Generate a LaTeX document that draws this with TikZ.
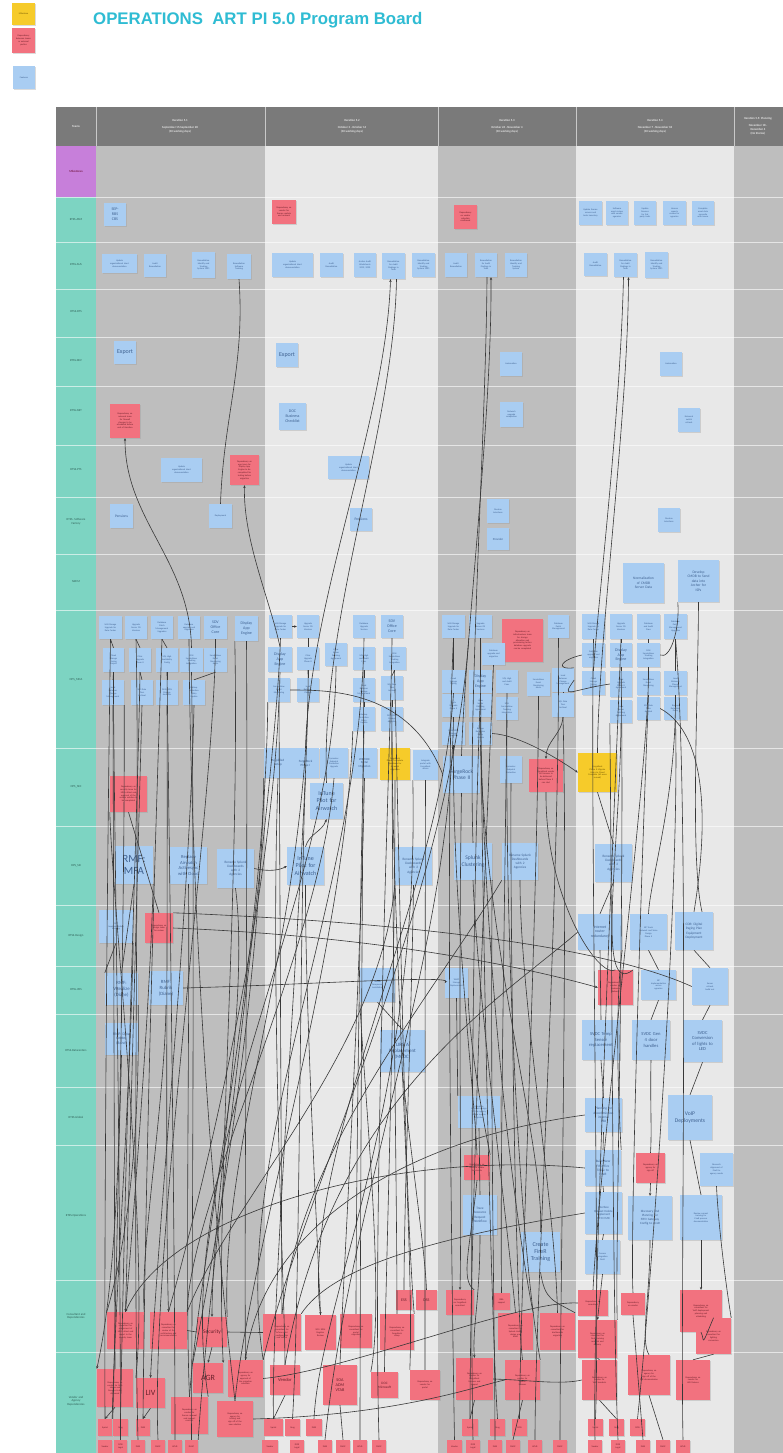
\documentclass[tikz,border=0pt]{standalone}
\usepackage{fontspec}
\setmainfont{Carlito}
\newfontfamily\ttlfont{Liberation Sans}
\usetikzlibrary{arrows.meta}
\definecolor{hdrgray}{HTML}{7A7A7A}
\definecolor{coldark}{HTML}{BEBEBE}
\definecolor{collight}{HTML}{E8E8E8}
\definecolor{teal}{HTML}{7DD4C2}
\definecolor{purp}{HTML}{C77FDA}
\definecolor{noteblue}{HTML}{A9CDF2}
\definecolor{notered}{HTML}{F2727F}
\definecolor{noteyellow}{HTML}{F6CB2A}
\definecolor{bluetext}{HTML}{3F6190}
\definecolor{redtext}{HTML}{6A1F2A}
\definecolor{yeltext}{HTML}{6B5200}
\definecolor{lanetext}{HTML}{2E5E55}
\definecolor{hdrtext}{HTML}{E6E6E6}
\definecolor{linecol}{HTML}{383838}
\definecolor{titlecol}{HTML}{2FBCD3}
\definecolor{shadowc}{HTML}{9A9A9A}
\newcommand\fs[2]{\fontsize{#1}{#2}\selectfont}
\newcommand\stk[7]{%
 \pgfmathsetmacro\stkw{#5-#3}\pgfmathsetmacro\stkh{#6-#4}%
 \pgfmathsetmacro\stkx{(#3+#5)/2}\pgfmathsetmacro\stky{(#4+#6)/2}%
 \pgfmathsetmacro\stktw{max(#5-#3-2,1)}%
 \fill[shadowc,opacity=0.35] (#3+0.6,#4+1.2) rectangle (#5+0.6,#6+1.2);%
 \node[#1,minimum width=\stkw pt,minimum height=\stkh pt,text width=\stktw pt] (#2) at (\stkx,\stky) {#7};}
\tikzset{
 nb/.style={fill=noteblue, inner sep=0.6pt, align=center, text=bluetext, font=\fs{2.3}{2.8}},
 nr/.style={fill=notered, inner sep=0.6pt, align=center, text=redtext, font=\fs{2.3}{2.8}},
 ny/.style={fill=noteyellow, inner sep=0.6pt, align=center, text=yeltext, font=\fs{2.3}{2.8}},
 lane/.style={text width=38pt, align=center, font=\fs{3}{3.6}, text=lanetext, inner sep=0},
 hdr/.style={align=center, font=\bfseries\fs{3}{4}, text=hdrtext, inner sep=0},
 cn/.style={draw=linecol, line width=0.6pt},
 ca/.style={cn, -{Stealth[length=2.8pt,width=2.4pt]}},
 sep/.style={draw=white, line width=0.5pt, opacity=0.6}
}
\begin{document}
\begin{tikzpicture}[x=1pt,y=-1pt]
\useasboundingbox (0,0) rectangle (783,1453);
\fill[white] (0,0) rectangle (783,1453);
% legend
\stk{ny}{lgY}{12}{3}{35}{25}{Milestone}
\stk{nr}{lgR}{12}{28}{35}{53}{Dependency\\between teams\\or external\\parties}
\stk{nb}{lgB}{13}{66}{35}{89}{Features}
\node[anchor=west, font=\ttlfont\bfseries\fs{16.8}{19}, text=titlecol, inner sep=0] (title) at (93,20.5) {OPERATIONS\ \ ART PI 5.0 Program Board};
% board background
\fill[hdrgray] (56,107) rectangle (783,146);
\fill[purp] (56,146) rectangle (96,197);
\fill[teal] (56,197) rectangle (96,1453);
\fill[coldark] (96,146) rectangle (265,1453);
\fill[collight] (265,146) rectangle (438,1453);
\fill[coldark] (438,146) rectangle (576,1453);
\fill[collight] (576,146) rectangle (734,1453);
\fill[coldark] (734,146) rectangle (783,1453);
\foreach \xx in {96,265,438,576,734} \draw[sep] (\xx,107) -- (\xx,146);
\foreach \yy in {197,242,289,337,386,445,497,554,610,748,826,905,966,1014,1087,1145,1280,1352} \draw[sep] (56,\yy) -- (783,\yy);
% header
\node[hdr] (h0) at (76,127) {Teams};
\node[hdr] (h1) at (180,126) {Iteration 5.1\\[3pt] September 15-September 28\\(10 working days)};
\node[hdr] (h2) at (352,126) {Iteration 5.2\\[3pt] October 3 - October 14\\(10 working days)};
\node[hdr] (h3) at (507,126) {Iteration 5.3\\[3pt] October 24 - November 4\\(10 working days)};
\node[hdr] (h4) at (655,126) {Iteration 5.4\\[3pt] November 7 - November 18\\(10 working days)};
\node[hdr] (h5) at (758,126) {Iteration 5.5: Planning\\[3pt] November 18 -\\December 4\\(No Stories)};
% lane labels
\node[lane, text=purple!50!black] (L0) at (76,171) {Milestones};
\node[lane] (L1) at (76,220) {RTSS-ASM};
\node[lane] (L2) at (76,265) {RTSS-AUS};
\node[lane] (L3) at (76,312) {RTSS-DTS};
\node[lane] (L4) at (76,361) {RTSS-DEV};
\node[lane] (L5) at (76,411) {RTSS-NET};
\node[lane] (L6) at (76,470) {RTSS-PTS};
\node[lane] (L7) at (76,522) {RTSS- Software\\Factory};
\node[lane] (L8) at (76,582) {NRCM};
\node[lane] (L9) at (76,680) {OPS\_MDA};
\node[lane] (L10) at (76,787) {OPS\_SEC};
\node[lane] (L11) at (76,866) {OPS\_SSI};
\node[lane] (L12) at (76,936) {RTSS-Design};
\node[lane] (L13) at (76,990) {RTSS-VRS};
\node[lane] (L14) at (76,1051) {RTSS-Datacenters};
\node[lane] (L15) at (76,1117) {RTSS-Global};
\node[lane] (L16) at (76,1216) {RTSS-Operations};
\node[lane] (L17) at (76,1316) {Consultant and\\Dependencies};
\node[lane] (L18) at (76,1401) {Vendor and\\Agency\\Dependencies};
% ---------- notes ----------
% ASM
\stk{nb,font=\fs{4}{4.8}}{a1}{104}{203}{126}{226}{SEP-\\RBS\\CBS}
\stk{nr}{a2}{272}{200}{296}{224}{Dependency on\\vendor for\\license update\\and renewal}
\stk{nr}{a3}{454}{205}{477}{229}{Dependency\\on vendor\\schedule\\confirmed}
\stk{nb}{a4}{579}{201}{602}{225}{Update license\\servers and\\tools inventory}
\stk{nb}{a5}{606}{201}{628}{225}{Software\\asset review\\with vendor\\agencies}
\stk{nb}{a6}{634}{201}{656}{225}{Update\\licenses\\for 3rd\\party tools}
\stk{nb}{a7}{663}{201}{686}{225}{License\\reports\\review for\\agencies}
\stk{nb}{a8}{692}{201}{714}{225}{Complete\\asset data\\reconcile\\with teams}
% AUS
\stk{nb}{u1}{102}{254}{137}{273}{Update\\organizational chart\\documentation}
\stk{nb}{u2}{144}{254}{166}{277}{Audit\\Remediation}
\stk{nb}{u3}{192}{252}{215}{278}{Remediation\\Identify and\\Tracking\\System 2021}
\stk{nb}{u4}{227}{254}{251}{279}{Remediation\\Software\\Tracking}
\stk{nb}{u5}{272}{253}{313}{277}{Update\\organizational chart\\documentation}
\stk{nb}{u6}{320}{253}{343}{277}{Audit\\Remediation}
\stk{nb}{u7}{354}{253}{376}{277}{Archer Audit\\Worksheets\\2019, 2020}
\stk{nb}{u8}{382}{253}{405}{279}{Remediation\\for Audit\\Findings in\\Tools}
\stk{nb}{u9}{412}{253}{435}{277}{Remediation\\Identify and\\Tracking\\System 2021}
\stk{nb}{u10}{445}{253}{467}{277}{Audit\\Remediation}
\stk{nb}{u11}{475}{253}{497}{277}{Remediation\\for Audit\\Findings in\\Tools}
\stk{nb}{u12}{505}{253}{527}{277}{Remediation\\Identify and\\Tracking\\System}
\stk{nb}{u13}{584}{253}{607}{276}{Audit\\Remediation}
\stk{nb}{u14}{614}{253}{637}{277}{Remediation\\for Audit\\Findings in\\Tools}
\stk{nb}{u15}{645}{252}{668}{278}{Remediation\\Identify and\\Tracking\\System 2021}
% DEV
\stk{nb,font=\fs{6}{7}}{d1}{114}{341}{136}{364}{Export}
\stk{nb,font=\fs{6}{7}}{d2}{276}{343}{298}{367}{Export}
\stk{nb}{d3}{500}{352}{522}{376}{Automation}
\stk{nb}{d4}{660}{352}{682}{376}{Automation}
% NET
\stk{nr}{n1}{110}{404}{140}{438}{Dependency on\\network team\\for firewall\\changes to be\\scheduled before\\end of iteration}
\stk{nb,font=\fs{4}{4.8}}{n2}{279}{403}{306}{430}{DOC\\Business\\Checklist}
\stk{nb}{n3}{500}{402}{523}{427}{Network\\upgrade\\completion}
\stk{nb}{n4}{678}{408}{700}{432}{Network\\switch\\refresh}
% PTS
\stk{nb}{p1}{161}{458}{202}{482}{Update\\organizational chart\\documentation}
\stk{nr}{p2}{230}{455}{259}{485}{Dependency on\\app team for\\Display App\\Engine to be\\completed for\\testing before\\migration}
\stk{nb}{p3}{328}{456}{369}{479}{Update\\organizational chart\\documentation}
% SF
\stk{nb,font=\fs{3.6}{4.4}}{s1}{110}{504}{133}{528}{Pensions}
\stk{nb}{s2}{209}{504}{232}{528}{Deployment}
\stk{nb,font=\fs{3.6}{4.4}}{s3}{350}{508}{372}{531}{Pensions}
\stk{nb}{s4}{487}{499}{509}{523}{Pension\\Interfaces}
\stk{nb,font=\fs{3}{3.6}}{s5}{487}{528}{509}{550}{Provider}
\stk{nb}{s6}{658}{508}{680}{532}{Pension\\Interfaces}
% NRCM
\stk{nb,font=\fs{3.6}{4.6}}{m1}{623}{563}{664}{603}{Normalization\\of CMDB\\Server Data}
\stk{nb,font=\fs{3.6}{4.6}}{m2}{678}{560}{719}{602}{Develop\\CMDB to Send\\data into\\Archer for\\ISPs}
% OPS_MDA col1
\stk{nb}{A1}{99}{616}{122}{639}{SAN Storage\\Upgrade for\\Data Center}
\stk{nb}{A2}{125}{616}{147}{639}{Upgrade\\Server OS\\Versions}
\stk{nb}{A3}{151}{616}{173}{639}{Database\\Patch\\Management\\Upgrades}
\stk{nb}{A4}{178}{616}{200}{639}{Database\\upgrade and\\migration}
\stk{nb,font=\fs{4}{4.8}}{A5}{204}{616}{227}{639}{SDV\\Office\\Core}
\stk{nb,font=\fs{4}{4.8}}{A6}{235}{616}{258}{641}{Display\\App\\Engine}
\stk{nb}{B1}{103}{648}{124}{672}{Cloud\\Storage\\Tiering\\Project}
\stk{nb}{B2}{129}{648}{151}{672}{Citrix\\Upgrade\\Phase II}
\stk{nb}{B3}{156}{648}{178}{672}{SQL High\\Availability\\Config}
\stk{nb}{B4}{180}{648}{203}{672}{SOLI\\ServiceNow\\Tracking\\Integration}
\stk{nb}{B5}{204}{648}{227}{672}{ServiceNow\\Event\\Monitoring\\Alerts}
\stk{nb}{C1}{102}{680}{124}{705}{Load\\Balancer\\Change\\Management}
\stk{nb}{C2}{131}{680}{153}{705}{SQL Data\\Tiers\\Archival}
\stk{nb}{C3}{156}{680}{178}{705}{DLSS SPIN\\Storage\\Analytics}
\stk{nb}{C4}{183}{680}{205}{705}{Backup\\Retention\\Policy\\Update}
% col2
\stk{nb}{E1}{269}{615}{292}{638}{SAN Storage\\Upgrade for\\Data Center}
\stk{nb}{E2}{297}{615}{319}{638}{Upgrade\\Server OS\\Versions}
\stk{nb}{E3}{353}{615}{375}{638}{Database\\Upgrade\\Version}
\stk{nb,font=\fs{4}{4.8}}{E4}{381}{615}{403}{638}{SDV\\Office\\Core}
\stk{nb,font=\fs{4}{4.8}}{F1}{268}{647}{292}{672}{Display\\App\\Engine}
\stk{nb}{F2}{297}{647}{319}{670}{Citrix\\Upgrade\\Phase II}
\stk{nb}{F3}{325}{643}{347}{666}{Linux\\Server\\Patching\\Agreement}
\stk{nb}{F4}{353}{647}{375}{670}{SQL High\\and Audit\\Fixes}
\stk{nb}{F5}{383}{647}{406}{670}{SOLI\\ServiceNow\\Tracking\\Integration}
\stk{nb}{G1}{268}{678}{290}{702}{ServiceNow\\Event\\Monitoring}
\stk{nb}{G2}{297}{678}{319}{702}{Load\\Balancer\\Change}
\stk{nb}{G3}{353}{678}{375}{702}{Load\\Balancer\\Change\\Management}
\stk{nb}{G4}{381}{676}{403}{700}{SQL Data\\Tiers\\Archival}
\stk{nb}{H1}{353}{707}{375}{731}{Backup\\Retention\\Policy\\Update}
\stk{nb}{H2}{381}{707}{403}{731}{DLSS SPIN\\Storage\\Analytics}
% col3
\stk{nb}{I1}{442}{615}{465}{638}{SAN Storage\\Upgrade for\\Data Center}
\stk{nb}{I2}{469}{615}{492}{638}{Upgrade\\Server OS\\Versions}
\stk{nr}{I3}{502}{619}{543}{662}{Dependency on\\infrastructure team\\for storage\\allocation and\\provisioning before\\database upgrade\\can be completed}
\stk{nb}{I4}{548}{615}{569}{638}{Database\\Patch\\Management}
\stk{nb}{J1}{482}{643}{505}{665}{Database\\upgrade and\\migration}
\stk{nb}{K1}{442}{670}{465}{693}{Cloud\\Storage\\Tiering}
\stk{nb,font=\fs{4}{4.8}}{K2}{469}{670}{492}{693}{Display\\App\\Engine}
\stk{nb}{K3}{496}{670}{518}{693}{SQL High\\and Audit\\Fixes}
\stk{nb}{L1}{442}{694}{465}{717}{Citrix\\Upgrade\\Phase II}
\stk{nb}{L2}{469}{694}{492}{717}{Linux\\Server\\Patching\\Agreement}
\stk{nb}{L3}{496}{697}{518}{720}{SOLI\\ServiceNow\\Tracking\\Integration}
\stk{nb}{K4}{527}{672}{550}{696}{ServiceNow\\Event\\Monitoring\\Alerts}
\stk{nb}{K5}{552}{668}{574}{692}{Load\\Balancer\\Change\\Management}
\stk{nb}{L4}{552}{693}{574}{717}{SQL Data\\Tiers\\Archival}
\stk{nb}{M1}{442}{722}{465}{745}{DLSS SPIN\\Storage\\Analytics}
\stk{nb}{M2}{469}{722}{492}{745}{Backup\\Retention\\Policy\\Update}
% col4
\stk{nb}{P1}{582}{614}{605}{639}{SAN Storage\\Upgrade for\\Data Center}
\stk{nb}{P2}{610}{614}{632}{639}{Upgrade\\Server OS\\Versions}
\stk{nb}{P3}{637}{614}{660}{639}{Database\\and Audit\\Fixes}
\stk{nb}{P4}{664}{614}{687}{639}{Database\\Patch\\Management\\Upgrades}
\stk{nb}{Q1}{582}{643}{605}{667}{Database\\upgrade and\\migration}
\stk{nb,font=\fs{4}{4.8}}{Q2}{610}{643}{632}{667}{Display\\App\\Engine}
\stk{nb}{Q3}{637}{643}{660}{667}{SOLI\\ServiceNow\\Tracking\\Integration}
\stk{nb}{R1}{582}{671}{605}{695}{Cloud\\Storage\\Tiering\\Project}
\stk{nb}{R2}{610}{671}{632}{697}{Citrix\\Upgrade\\Phase II\\Agreement}
\stk{nb}{R3}{637}{671}{660}{695}{ServiceNow\\Event\\Monitoring}
\stk{nb}{R4}{664}{671}{687}{695}{Load\\Balancer\\Change\\Management}
\stk{nb}{S1}{610}{700}{632}{723}{Linux\\Server\\Patching\\Agreement}
\stk{nb}{S2}{637}{697}{660}{720}{SQL Data\\Tiers\\Archival}
\stk{nb}{S3}{664}{697}{687}{720}{Backup\\Retention\\Policy}
% OPS_SEC
\stk{nr}{T1}{110}{776}{147}{812}{Dependency on\\security team for\\MFA rollout and\\approval of the\\vendor solution to\\be completed}
\stk{nb,font=\fs{3.2}{4}}{T2}{264}{748}{292}{778}{Amplified\\Setup}
\stk{nb,font=\fs{3.2}{4}}{T3}{292}{748}{319}{778}{ForgeRock\\Phase I}
\stk{nb}{T4}{320}{748}{348}{778}{Symantec\\Endpoint\\Protection\\Upgrade}
\stk{nb,font=\fs{3}{3.7}}{T5}{352}{748}{377}{778}{WK/DOE\\Portal\\Migration}
\stk{ny}{T6}{380}{748}{410}{780}{ForgeRock\\Phase I complete\\Readiness for\\Airwatch\\migration}
\stk{nb}{T7}{413}{750}{438}{780}{Integrate\\portal with\\ForgeRock\\access}
\stk{nb,font=\fs{6}{7.2}}{T8}{310}{783}{343}{819}{InTune\\Pilot for\\Airwatch}
\stk{nb,font=\fs{5.5}{6.6}}{T9}{443}{756}{480}{793}{ForgeRock\\Phase II}
\stk{nb}{T10}{500}{756}{522}{783}{Symantec\\Endpoint\\Protection}
\stk{nr}{T11}{529}{759}{563}{792}{Dependency on\\ForgeRock vendor\\for licenses to\\be delivered\\before Phase II\\can start}
\stk{ny}{T12}{578}{753}{617}{792}{ForgeRock\\Phase II Migrate\\Users to Cloud\\Complete (all users\\moved)}
% OPS_SSI
\stk{nb,font=\fs{11}{12.5}}{V1}{115}{846}{153}{884}{RMF:\\MFA}
\stk{nb,font=\fs{4.6}{5.6}}{V2}{170}{847}{207}{884}{Replace\\Airwatch\\Activesync\\with Cloud}
\stk{nb,font=\fs{3.4}{4.2}}{V3}{217}{849}{254}{888}{Rename Splunk\\Dashboards\\with 2\\Agencies}
\stk{nb,font=\fs{6}{7.2}}{V4}{287}{847}{324}{885}{InTune\\Pilot for\\Airwatch}
\stk{nb,font=\fs{3.4}{4.2}}{V5}{395}{847}{432}{885}{Rename Splunk\\Dashboards\\with 2\\Agencies}
\stk{nb,font=\fs{5.6}{6.8}}{V6}{454}{843}{492}{880}{Splunk\\Clustering}
\stk{nb,font=\fs{3.4}{4.2}}{V7}{502}{843}{538}{880}{Rename Splunk\\Dashboards\\with 2\\Agencies}
\stk{nb,font=\fs{3.4}{4.2}}{V8}{595}{844}{632}{882}{Rename Splunk\\Dashboards\\with 2\\Agencies}
% RTSS-Design
\stk{nb}{W1}{99}{910}{133}{943}{SAT\\Implementation\\Strategy}
\stk{nr}{W2}{145}{913}{173}{943}{Dependency on\\design team\\for review}
\stk{nb,font=\fs{3.8}{4.6}}{W3}{578}{914}{622}{950}{Internet\\router\\redundancy}
\stk{nb}{W4}{630}{914}{667}{950}{SIP Trunk\\Network and Voice\\Design\\Phase II}
\stk{nb,font=\fs{3.4}{4.2}}{W5}{675}{912}{713}{950}{CDR: Digital\\Paging Plan\\Equipment\\Deployment}
% RTSS-VRS
\stk{nb,font=\fs{4.8}{5.8}}{X1}{105}{973}{138}{1005}{RMF:\\VRealize\\(Diane)}
\stk{nb,font=\fs{4.8}{5.8}}{X2}{149}{971}{183}{1005}{RMF:\\Rubrik\\(Diane)}
\stk{nb}{X3}{360}{968}{395}{1002}{Tanium\\Component\\Installation}
\stk{nb}{X4}{445}{968}{468}{998}{WMP\\Storage\\Replacement}
\stk{nr}{X5}{598}{970}{633}{1005}{Dependency on\\vendor for\\hardware\\delivery}
\stk{nb}{X6}{641}{970}{676}{1000}{SIP\\Implementation\\across\\agencies}
\stk{nb}{X7}{692}{968}{728}{1005}{Server\\refresh\\build out}
% Datacenters
\stk{nb,font=\fs{3.8}{4.6}}{Y1}{105}{1023}{138}{1055}{RMF: Data\\Center\\(Bond)}
\stk{nb,font=\fs{5}{6}}{Y2}{380}{1030}{425}{1072}{LIRS A\\Replacement\\(MCDC)}
\stk{nb,font=\fs{4.6}{5.6}}{Y3}{582}{1020}{620}{1060}{SVDC Temp\\Sensor\\replacement}
\stk{nb,font=\fs{4.6}{5.6}}{Y4}{632}{1020}{670}{1060}{SVDC Gen\\4 door\\handles}
\stk{nb,font=\fs{4.6}{5.6}}{Y5}{683}{1020}{722}{1062}{SVDC\\Conversion\\of lights to\\LED}
% Global
\stk{nb}{Z1}{458}{1096}{500}{1128}{Complete\\interface design\\for the agency\\phone system\\migration}
\stk{nb,font=\fs{3.4}{4.2}}{Z2}{585}{1098}{622}{1132}{Planning for\\decommission\\internal\\PBX}
\stk{nb,font=\fs{5.6}{6.8}}{Z3}{668}{1095}{712}{1140}{VoIP\\Deployments}
% Operations
\stk{nr}{O1}{464}{1155}{490}{1180}{Dependency on\\telecom vendor\\for circuits}
\stk{nb,font=\fs{3.4}{4.2}}{O2}{463}{1195}{497}{1235}{Trace\\Resource\\Request\\Workflow}
\stk{nb,font=\fs{6}{7.2}}{O3}{521}{1232}{560}{1272}{Create\\FireR\\Training}
\stk{nb,font=\fs{3.4}{4.2}}{O4}{585}{1150}{621}{1186}{Build New\\FIFO/Fire\\Trade to\\FireR}
\stk{nr}{O5}{636}{1153}{665}{1183}{Dependency on\\agency for\\sign off}
\stk{nb}{O6}{700}{1153}{733}{1186}{Research\\alignment of\\FireR to\\agency needs}
\stk{nb,font=\fs{3}{3.7}}{O7}{585}{1192}{622}{1234}{Interface\\Dataset Delete\\Implement\\FIFO CMD}
\stk{nb,font=\fs{3.2}{4}}{O8}{628}{1196}{672}{1240}{Discovery and\\Planning for\\FIFO Gateway\\Config to FireR}
\stk{nb}{O9}{680}{1195}{722}{1240}{Review current\\training for\\FireR process\\documentation}
\stk{nb}{O10}{585}{1240}{620}{1274}{Process\\Integration\\FireR}
% Consultant
\stk{nr}{c1}{107}{1312}{144}{1349}{Dependency on\\consultant for\\assessment of\\MFA rollout and\\report to the\\security team}
\stk{nr}{c2}{150}{1312}{187}{1349}{Dependency on\\consultant for\\review of the\\architecture and\\recommendation}
\stk{nr,font=\fs{5.4}{6.4}}{c3}{197}{1317}{227}{1347}{Security}
\stk{nr}{c4}{263}{1314}{301}{1351}{Dependency on\\consultant for\\InTune pilot\\configuration\\and rollout}
\stk{nr}{c5}{305}{1315}{336}{1350}{SOC: SDM\\Register\\Review}
\stk{nr}{c6}{340}{1314}{372}{1348}{Dependency on\\consultant for\\portal\\migration}
\stk{nr}{c7}{380}{1314}{414}{1350}{Dependency on\\consultant for\\ForgeRock\\setup}
\stk{nr,font=\fs{4}{4.8}}{c8}{396}{1290}{412}{1310}{ESS}
\stk{nr,font=\fs{4}{4.8}}{c9}{416}{1290}{437}{1310}{DSS}
\stk{nr}{c10}{446}{1290}{474}{1315}{Dependency\\on ForgeRock\\consultant}
\stk{nr}{c11}{493}{1293}{510}{1310}{DBA\\support}
\stk{nr}{c12}{498}{1313}{533}{1350}{Dependency on\\consultant for\\Splunk cluster\\design and\\build}
\stk{nr}{c13}{540}{1313}{575}{1350}{Dependency on\\consultant for\\dashboards\\migration}
\stk{nr}{c14}{578}{1290}{608}{1316}{Dependency on\\consultant}
\stk{nr}{c15}{621}{1293}{645}{1315}{Dependency\\on vendor}
\stk{nr}{c16}{578}{1320}{617}{1358}{Dependency on\\consultant for\\FireR training\\material and\\delivery}
\stk{nr}{c17}{680}{1290}{722}{1332}{Dependency on\\consultant for\\VoIP deployment\\planning and\\scheduling}
\stk{nr}{c18}{696}{1318}{731}{1354}{Dependency on\\consultant for\\lighting\\conversion}
% Vendor
\stk{nr}{v1}{97}{1369}{133}{1407}{Dependency on\\vendor for MFA\\tokens and\\licenses to be\\delivered}
\stk{nr,font=\fs{8}{9.6}}{v2}{136}{1378}{165}{1408}{LIV}
\stk{nr,font=\fs{8}{9.6}}{v3}{193}{1363}{223}{1393}{AGR}
\stk{nr}{v4}{228}{1360}{263}{1397}{Dependency on\\agency for\\approval of\\the migration\\schedule}
\stk{nr}{v5}{171}{1397}{208}{1434}{Dependency on\\vendor for\\license renewal\\and support\\contract}
\stk{nr}{v6}{217}{1401}{253}{1437}{Dependency on\\agency for\\testing and\\sign off of the\\new solution}
\stk{nr,font=\fs{4.6}{5.6}}{v7}{270}{1365}{300}{1395}{Vendor}
\stk{nr,font=\fs{4.2}{5}}{v8}{323}{1365}{357}{1405}{SOA\\ADM\\VTAB}
\stk{nr,font=\fs{3.4}{4.2}}{v9}{371}{1372}{398}{1398}{DOC\\Microsoft}
\stk{nr}{v10}{410}{1370}{440}{1400}{Dependency on\\vendor for\\portal}
\stk{nr}{v11}{456}{1358}{493}{1400}{Dependency on\\vendor for\\ForgeRock\\licenses and\\support}
\stk{nr}{v12}{505}{1360}{540}{1400}{Dependency on\\vendor for\\Splunk\\licenses}
\stk{nr}{v13}{582}{1360}{617}{1400}{Dependency on\\vendor for\\VoIP handsets}
\stk{nr}{v14}{628}{1355}{670}{1395}{Dependency on\\agency for\\sign off of the\\PBX decommission}
\stk{nr}{v15}{676}{1360}{710}{1400}{Dependency on\\vendor for\\LED fixtures}
% small bottom notes
\stk{nr}{k1}{98}{1419}{112}{1436}{Sprint}
\stk{nr}{k2}{113}{1419}{128}{1436}{Greg}
\stk{nr}{k3}{136}{1419}{150}{1436}{SVSS}
\stk{nr}{k4}{264}{1419}{283}{1436}{Sprint}
\stk{nr}{k5}{285}{1419}{300}{1436}{Greg}
\stk{nr}{k6}{306}{1419}{322}{1436}{SVSS}
\stk{nr}{k7}{462}{1419}{478}{1436}{Sprint}
\stk{nr}{k8}{490}{1419}{505}{1436}{Greg}
\stk{nr}{k9}{512}{1419}{527}{1436}{SVSS}
\stk{nr}{k10}{588}{1419}{603}{1436}{Sprint}
\stk{nr}{k11}{609}{1419}{624}{1436}{Greg}
\stk{nr}{k12}{630}{1419}{645}{1436}{SVSS}
\stk{nr}{j1}{98}{1440}{112}{1453}{Vendor}
\stk{nr}{j2}{114}{1440}{127}{1453}{DOR\\Legal}
\stk{nr}{j3}{131}{1440}{145}{1453}{SVSS}
\stk{nr}{j4}{151}{1440}{165}{1453}{DHSC}
\stk{nr}{j5}{168}{1440}{182}{1453}{WMS}
\stk{nr}{j6}{185}{1440}{198}{1453}{DHSC}
\stk{nr}{j7}{262}{1440}{278}{1453}{Vendor}
\stk{nr}{j8}{290}{1440}{304}{1453}{DOR\\Legal}
\stk{nr}{j9}{318}{1440}{332}{1453}{SVSS}
\stk{nr}{j10}{336}{1440}{350}{1453}{DHSC}
\stk{nr}{j11}{353}{1440}{367}{1453}{WMS}
\stk{nr}{j12}{372}{1440}{386}{1453}{DHSC}
\stk{nr}{j13}{447}{1440}{462}{1453}{Vendor}
\stk{nr}{j14}{466}{1440}{480}{1453}{DOR\\Legal}
\stk{nr}{j15}{488}{1440}{502}{1453}{SVSS}
\stk{nr}{j16}{506}{1440}{520}{1453}{DHSC}
\stk{nr}{j17}{528}{1440}{542}{1453}{WMS}
\stk{nr}{j18}{553}{1440}{567}{1453}{DHSC}
\stk{nr}{j19}{588}{1440}{602}{1453}{Vendor}
\stk{nr}{j20}{611}{1440}{625}{1453}{DOR\\Legal}
\stk{nr}{j21}{636}{1440}{650}{1453}{SVSS}
\stk{nr}{j22}{656}{1440}{670}{1453}{DHSC}
\stk{nr}{j23}{676}{1440}{690}{1453}{WMS}
% ---------- connectors ----------
\draw[cn] (s2.north) to[out=88,in=-86] (u4.south);
\draw[ca] (B4.north) .. controls (190,560) and (125,520) .. (n1.south);
\draw[ca] (F1.north) .. controls (270,600) and (243,540) .. (p2.south);
\draw[ca] (T3.north) .. controls (310,600) and (386,420) .. ([xshift=-3pt]u8.south);
\draw[cn] (T8.north) .. controls (320,620) and (394,430) .. ([xshift=3pt]u8.south);
\draw[ca] (T9.north) .. controls (465,640) and (492,420) .. ([xshift=5pt]u11.south);
\draw[cn] (V6.north) .. controls (468,700) and (486,430) .. ([xshift=1pt]u11.south);
\draw[ca] (T12.north) .. controls (598,640) and (628,420) .. ([xshift=3pt]u14.south);
\draw[cn] (R1.north) .. controls (598,600) and (620,420) .. ([xshift=-2pt]u14.south);
% MDA short links
\foreach \a/\b in {A1/B1,A2/B2,A3/B3,A5/B5,B1/C1,B2/C2,B3/C3,B5/C4,E2/F2,F2/G2,F4/G3,F5/G4,G3/H1,G4/H2,K1/L1,K2/L2,L1/M1,L2/M2,I1/K1,P1/Q1,Q1/R1,P2/Q2,Q2/R2,R2/S1,P3/Q3,Q3/R3,R3/S2,P4/R4,R4/S3,K5/L4}
  \draw[cn] (\a.south) -- (\b.north);
\draw[ca] (E1.east) -- (E2.west);
\draw[cn] (G1.east) .. controls (330,690) and (410,690) .. (T9.west);
\draw[ca] (L4.south) to[out=-95,in=90] (T11.north);
\draw[ca] (M2.east) .. controls (520,735) and (560,760) .. (T12.west);
\draw[cn] (S2.east) .. controls (700,730) and (712,800) .. (W5.north);
\draw[cn] (m2.south) .. controls (698,700) and (690,860) .. ([xshift=8pt]W5.north);
\draw[cn] (m2.south west) .. controls (680,630) and (670,660) .. (Q3.east);
\draw[cn] (R2.west) .. controls (570,690) and (560,700) .. (K5.east);
\draw[cn] (Q1.west) .. controls (560,660) and (555,670) .. (K5.north east);
% col1 verticals
\draw[cn] (C1.south) -- (v1.north);
\draw[ca] (C2.south) -- (c1.north);
\draw[ca] (C3.south) .. controls (168,900) and (165,1200) .. (c2.north);
\draw[ca] (C4.south) .. controls (190,900) and (160,1200) .. (v2.north);
\draw[ca] (V3.south) .. controls (250,1000) and (212,1200) .. (c3.north);
\draw[cn] (A6.south) .. controls (248,900) and (244,1200) .. (v4.north);
\draw[cn] (V1.south) -- (X1.north);
\draw[cn] (X1.south) -- (Y1.north);
\draw[ca] (Y1.south) .. controls (118,1200) and (112,1300) .. (v1.north west);
\draw[cn] (V2.south) .. controls (190,1000) and (185,1300) .. (v5.north);
\draw[cn] (T1.south) -- (W2.north);
\draw[cn] (W1.south) -- (X1.north west);
\draw[cn] (X2.south) .. controls (165,1100) and (140,1250) .. (c1.north east);
\draw[cn] (B2.south) .. controls (138,800) and (126,1100) .. (k2.north);
\draw[cn] (A3.south) .. controls (160,700) and (146,1100) .. (k3.north);
\draw[cn] (A4.south) .. controls (190,800) and (200,1100) .. (v6.north);
\draw[cn] (A5.south) .. controls (215,800) and (150,1250) .. (j4.north);
\draw[cn] (A1.south) .. controls (108,800) and (104,1200) .. (k1.north);
\draw[cn] (B1.south) .. controls (113,760) and (120,1100) .. (j2.north);
\draw[cn] (A2.south) .. controls (140,800) and (132,1200) .. (j3.north);
\draw[cn] (B3.south) .. controls (170,900) and (175,1250) .. (j5.north);
\draw[cn] (C1.south east) .. controls (125,900) and (118,1200) .. (k2.north west);
\draw[cn] (B4.south) .. controls (195,900) and (192,1250) .. (j6.north);
\draw[ca] (A6.south west) .. controls (240,900) and (215,1200) .. (v3.north east);
\draw[cn] (V1.south east) .. controls (150,1000) and (135,1200) .. (c1.north);
\draw[cn] (T1.south west) .. controls (112,900) and (150,1250) .. (v2.north west);
\draw[cn] (W1.south east) .. controls (130,1100) and (115,1300) .. (k1.north east);
\draw[cn] (X1.south east) .. controls (140,1150) and (125,1250) .. (c1.north west);
% cross diagonals
\draw[cn] (T4.south) .. controls (320,950) and (190,1200) .. (c2.north east);
\draw[cn] (F3.south) .. controls (335,900) and (170,1150) .. (v5.north east);
\draw[cn] (E3.south) .. controls (360,900) and (230,1150) .. (v4.north east);
\draw[cn] (G2.south) .. controls (300,950) and (220,1150) .. (c3.north east);
\draw[cn] (c4.north) .. controls (300,1150) and (430,1000) .. (V7.south west);
\draw[cn] (v7.north) .. controls (330,1100) and (500,1000) .. (W3.west);
\draw[cn] (K1.south) .. controls (440,900) and (300,1150) .. (c5.north);
\draw[cn] (L1.south) .. controls (450,950) and (350,1200) .. (j9.north);
\draw[cn] (F1.south) .. controls (275,900) and (200,1200) .. (c2.north);
\draw[cn] (G1.south west) .. controls (265,950) and (200,1250) .. (v5.north);
\draw[cn] (T2.south west) .. controls (260,1000) and (215,1250) .. (v3.north west);
\draw[cn] (H1.south west) .. controls (345,950) and (250,1250) .. (v6.north);
\draw[cn] (E1.south) .. controls (275,800) and (210,1250) .. (j6.north east);
\draw[cn] (I2.south west) .. controls (450,900) and (300,1200) .. (v4.north east);
\draw[cn] (V5.south west) .. controls (380,1050) and (230,1200) .. (c2.north east);
% col2 verticals
\draw[cn] (G1.south) -- (c4.north);
\draw[cn] (T2.south) .. controls (270,1000) and (285,1300) .. (v7.north);
\draw[ca] (V4.north) to[out=75,in=-110] (T8.south);
\draw[ca] (V4.south) .. controls (305,1000) and (318,1250) .. (c5.north);
\draw[cn] (H1.south) .. controls (360,900) and (356,1200) .. (c6.north);
\draw[cn] (T5.south) .. controls (360,1000) and (342,1300) .. (v8.north);
\draw[cn] (H2.south) .. controls (392,900) and (397,1200) .. (c7.north);
\draw[cn] (T6.south) .. controls (395,1000) and (385,1300) .. (v9.north);
\draw[cn] (T7.south) .. controls (425,1000) and (425,1300) .. (v10.north);
\draw[cn] (X3.south) -- (Y2.north);
\draw[cn] (V5.south) .. controls (412,1000) and (404,1200) .. (c8.north);
\draw[cn] (Y2.south) .. controls (410,1150) and (425,1250) .. (c9.north);
\draw[cn] (E4.south) .. controls (392,700) and (372,1200) .. (j12.north);
\draw[cn] (T3.south) .. controls (300,900) and (300,1300) .. (k5.north);
\draw[cn] (F2.south) .. controls (310,800) and (270,1300) .. (k4.north);
\draw[cn] (F4.south) .. controls (362,900) and (360,1300) .. (j11.north);
\draw[cn] (F5.south) .. controls (400,900) and (405,1200) .. (c7.north east);
\draw[cn] (G4.south) .. controls (390,900) and (415,1250) .. (v10.north west);
\draw[cn] (T7.south west) .. controls (420,1100) and (320,1300) .. (k6.north);
\draw[cn] (X3.south west) .. controls (365,1100) and (385,1300) .. (v9.north west);
% col3 verticals
\draw[ca] (T9.south) .. controls (458,1000) and (462,1200) .. (c10.north);
\draw[cn] (V6.south) .. controls (478,1000) and (505,1200) .. (c12.north);
\draw[cn] (V7.south) .. controls (520,1000) and (555,1200) .. (c13.north);
\draw[cn] (T10.south) .. controls (510,900) and (515,1300) .. (v12.north);
\draw[cn] (K3.south) .. controls (505,900) and (500,1150) .. (c11.north);
\draw[cn] (M1.south) .. controls (452,900) and (475,1100) .. (O1.north);
\draw[cn] (X4.south) -- (Z1.north west);
\draw[cn] (Z1.south) -- (O2.north);
\draw[ca] (O2.south) .. controls (480,1300) and (472,1330) .. (v11.north);
\draw[cn] (O1.south) .. controls (470,1250) and (460,1280) .. (c10.north east);
\draw[cn] (M2.south) .. controls (485,950) and (545,1150) .. (O3.north);
\draw[cn] (O3.south) .. controls (545,1300) and (552,1300) .. (c13.north east);
\draw[cn] (L3.south) .. controls (505,950) and (520,1250) .. (v12.north east);
\draw[cn] (J1.south) .. controls (490,750) and (470,1200) .. (k7.north);
\draw[cn] (I2.south) .. controls (480,800) and (490,1300) .. (k8.north);
\draw[cn] (K4.south) .. controls (538,900) and (520,1300) .. (k9.north);
\draw[cn] (L4.south) .. controls (568,900) and (560,1300) .. (j18.north);
\draw[cn] (T11.south) .. controls (545,900) and (600,980) .. (X5.north);
\draw[cn] (I1.south) .. controls (445,800) and (452,1300) .. (j13.north);
\draw[cn] (K2.south) .. controls (472,900) and (470,1300) .. (j14.north);
\draw[cn] (L2.south) .. controls (485,1000) and (520,1250) .. (c12.north east);
\draw[cn] (I4.south) .. controls (560,900) and (535,1300) .. (j17.north);
\draw[cn] (V6.south east) .. controls (490,1100) and (495,1350) .. (j15.north);
\draw[cn] (X4.south east) .. controls (470,1050) and (485,1130) .. (O1.north east);
% col4 verticals
\draw[cn] (T12.south) -- (V8.north);
\draw[cn] (V8.south) -- (W3.north);
\draw[cn] (W3.south) -- (Y3.north);
\draw[cn] (Y3.south) -- (Z2.north);
\draw[cn] (Z2.south) -- (O4.north);
\draw[cn] (O4.south) -- (O7.north);
\draw[cn] (O7.south) -- (O10.north);
\draw[ca] (O10.south) -- (c16.north);
\draw[cn] (c16.south) -- (v13.north);
\draw[cn] (R4.south) .. controls (676,800) and (650,880) .. (W4.north);
\draw[cn] (W4.south) -- (X6.north);
\draw[cn] (X6.south) -- (Y4.north);
\draw[cn] (Y4.south) .. controls (650,1100) and (652,1130) .. (O5.north);
\draw[ca] (O5.south) -- (O8.north);
\draw[cn] (O8.south) .. controls (650,1300) and (640,1340) .. (v14.north);
\draw[cn] (W5.south) -- (X7.north);
\draw[cn] (X7.south) -- (Y5.north);
\draw[cn] (Y5.south) -- (Z3.north);
\draw[cn] (Z3.south) -- (O9.north);
\draw[ca] (O9.south) -- (c17.north);
\draw[cn] (c17.south) .. controls (705,1340) and (700,1350) .. (c18.north);
\draw[cn] (c18.south) -- (v15.north);
\draw[cn] (O6.south) .. controls (718,1220) and (725,1280) .. (c18.north east);
\draw[cn] (S1.south) .. controls (620,850) and (595,1000) .. (X5.north east);
\draw[cn] (Q3.south) .. controls (650,760) and (600,1150) .. (c14.north);
\draw[cn] (R3.south) .. controls (640,900) and (630,1250) .. (c15.north);
\draw[cn] (S3.south) .. controls (680,900) and (650,1300) .. (k12.north);
\draw[cn] (P1.south) .. controls (590,800) and (600,1300) .. (k10.north);
\draw[cn] (c15.south) -- (j21.north);
\draw[cn] (v13.south) -- (k11.north);
\draw[cn] (P2.south) .. controls (615,800) and (592,1300) .. (j19.north);
\draw[cn] (S1.south west) .. controls (612,900) and (612,1300) .. (j20.north);
\draw[cn] (Q2.south) .. controls (625,900) and (615,1250) .. (c16.north east);
\draw[cn] (P4.south) .. controls (690,800) and (680,1300) .. (j23.north);
\draw[cn] (W3.south east) .. controls (615,1000) and (618,1100) .. (O4.north east);
% horizontals and long arcs
\draw[ca] (V3.east) .. controls (270,872) and (280,870) .. (V4.west);
\draw[ca] (W2.east) .. controls (350,935) and (500,960) .. (X5.west);
\draw[cn] (W2.north east) .. controls (400,922) and (600,945) .. (X7.west);
\draw[ca] (X2.east) .. controls (300,985) and (450,975) .. (X4.west);
\draw[ca] (O4.west) .. controls (400,1150) and (170,1210) .. (c1.north);
\draw[ca] (Z2.west) .. controls (400,1140) and (262,1230) .. (v4.north);
\draw[cn] (O7.west) .. controls (420,1240) and (330,1270) .. (c4.north east);
\draw[cn] (c2.east) -- (c3.west);
\draw[cn] (c3.east) -- (c4.west);
\draw[ca] (c3.south) -- (v3.north);
\draw[cn] (v6.east) .. controls (400,1415) and (480,1385) .. (v12.west);
\draw[cn] (v4.east) .. controls (350,1370) and (520,1300) .. (c14.west);
\draw[cn] (v11.east) .. controls (530,1380) and (560,1385) .. (v13.west);
\draw[ca] (v1.south) -- (k1.north);
\draw[ca] (v2.south) -- (k3.north);
\draw[cn] (v7.south) -- (k4.north);
\draw[cn] (v8.south) -- (j10.north);
\draw[cn] (v11.south) -- (k7.north);
\draw[cn] (v12.south) -- (j16.north);
\draw[cn] (v14.south) -- (j22.north);
\end{tikzpicture}
\end{document}
